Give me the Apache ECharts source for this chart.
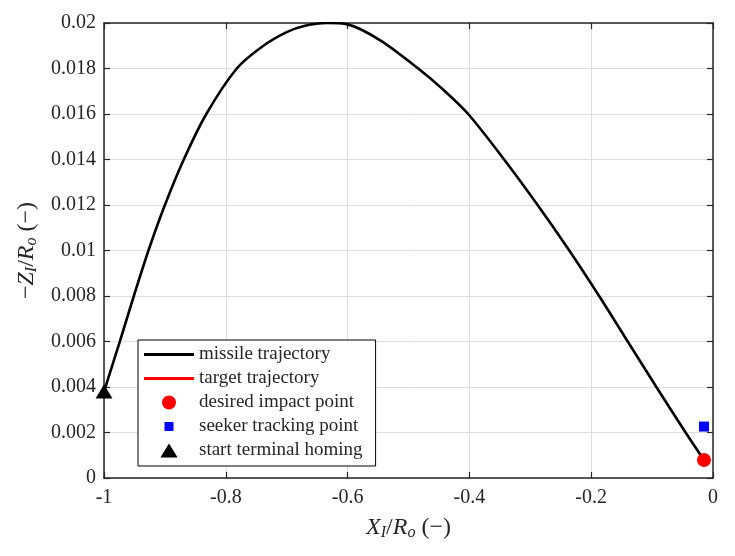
<!DOCTYPE html>
<html>
<head>
<meta charset="utf-8">
<script src="https://cdn.jsdelivr.net/npm/echarts@6/dist/echarts.min.js"></script>
<style>
  html, body { margin: 0; padding: 0; background: #fff; }
  #chart { width: 735px; height: 556px; }
</style>
</head>
<body>
<div id="chart"></div>
<script>
// missile trajectory
const trajX = [-1, -0.974, -0.951, -0.927, -0.9, -0.869, -0.832, -0.782, -0.74, -0.7,
               -0.67, -0.634, -0.6, -0.547, -0.484, -0.443, -0.402, -0.343, -0.288,
               -0.236, -0.187, -0.14, -0.093, -0.045, -0.0148];
const trajY = [0.0038, 0.006, 0.008, 0.010, 0.012, 0.014, 0.016, 0.018, 0.01897, 0.0196,
               0.01988, 0.02, 0.01994, 0.01925, 0.018, 0.01707, 0.016, 0.014, 0.012,
               0.010, 0.008, 0.006, 0.004, 0.002, 0.00079];

const impactPoint = [-0.0148, 0.00079];
const seekerPoint = [-0.0148, 0.00226];
const homingStart = [-1, 0.0038];

const seriesNames = ['missile trajectory', 'target trajectory', 'desired impact point',
                     'seeker tracking point', 'start terminal homing'];

const font = 'Liberation Serif';
const ink = '#262626';

const chart = echarts.init(document.getElementById('chart'));

const trajectory = trajX.map((x, i) => [x, trajY[i]]);

const boxAxis = {
    axisLine: { show: true, onZero: false, lineStyle: { color: ink, width: 1.5 } },
    axisTick: { show: true, inside: true, length: 6, lineStyle: { color: ink, width: 1.2 } },
    axisLabel: { show: false },
    splitLine: { show: false }
};

const nameRich = {
    i: { fontFamily: font, fontStyle: 'italic', fontSize: 24, color: ink, lineHeight: 26 },
    s: { fontFamily: font, fontStyle: 'italic', fontSize: 16, color: ink, lineHeight: 12, verticalAlign: 'bottom' },
    n: { fontFamily: font, fontSize: 24, color: ink, lineHeight: 26 }
};

const option = {
    backgroundColor: '#fff',
    animation: false,
    grid: { left: 104, right: 22, top: 23, bottom: 78 },
    xAxis: [
        {
            type: 'value', min: -1, max: 0, interval: 0.2,
            position: 'bottom',
            axisLine: { onZero: false, lineStyle: { color: ink, width: 1.5 } },
            axisTick: { inside: true, length: 6, lineStyle: { color: ink, width: 1.2 } },
            axisLabel: { color: ink, fontFamily: font, fontSize: 20, margin: 10 },
            splitLine: { show: true, lineStyle: { color: '#dedede', width: 1 } },
            name: '{i|X}{s|I}{n|/}{i|R}{s|o}{n| (\u2212)}',
            nameLocation: 'middle',
            nameGap: 37,
            nameTextStyle: { rich: nameRich }
        },
        Object.assign({ type: 'value', min: -1, max: 0, interval: 0.2, position: 'top' }, boxAxis)
    ],
    yAxis: [
        {
            type: 'value', min: 0, max: 0.02, interval: 0.002,
            position: 'left',
            axisLine: { show: true, onZero: false, lineStyle: { color: ink, width: 1.5 } },
            axisTick: { show: true, inside: true, length: 6, lineStyle: { color: ink, width: 1.2 } },
            axisLabel: { color: ink, fontFamily: font, fontSize: 20, margin: 8 },
            splitLine: { show: true, lineStyle: { color: '#dedede', width: 1 } },
            name: '{n|\u2212}{i|Z}{s|I}{n|/}{i|R}{s|o}{n| (\u2212)}',
            nameLocation: 'middle',
            nameGap: 64,
            nameRotate: 90,
            nameTextStyle: { rich: nameRich }
        },
        Object.assign({ type: 'value', min: 0, max: 0.02, interval: 0.002, position: 'right' }, boxAxis)
    ],
    legend: {
        orient: 'vertical',
        left: 138,
        top: 340,
        padding: [5, 13, 6, 6],
        itemGap: 5,
        itemWidth: 50,
        itemHeight: 14,
        backgroundColor: '#fff',
        borderColor: '#000',
        borderWidth: 1,
        borderRadius: 0,
        textStyle: { fontFamily: font, fontSize: 19, color: ink },
        selectedMode: false,
        data: [
            { name: seriesNames[0], icon: 'path://M0,0H50V3H0Z', itemStyle: { color: '#000', borderWidth: 0 } },
            { name: seriesNames[1], icon: 'path://M0,0H50V3H0Z', itemStyle: { color: '#ff0000', borderWidth: 0 } },
            { name: seriesNames[2], icon: 'circle', itemStyle: { color: '#ff0000', borderWidth: 0 } },
            { name: seriesNames[3], icon: 'path://M0,0M14,14M2.5,2.5H11.5V11.5H2.5Z', itemStyle: { color: '#0000ff', borderWidth: 0 } },
            { name: seriesNames[4], icon: 'path://M8,0L16,13H0Z', itemStyle: { color: '#000', borderWidth: 0 } }
        ]
    },
    series: [
        {
            name: seriesNames[0],
            type: 'line',
            data: trajectory,
            symbol: 'none',
            smooth: 0.3,
            color: '#000',
            lineStyle: { color: '#000', width: 2.6 },
            z: 3
        },
        {
            name: seriesNames[1],
            type: 'line',
            data: [impactPoint],
            symbol: 'none',
            color: '#ff0000',
            lineStyle: { color: '#ff0000', width: 2.6 },
            z: 3
        },
        {
            name: seriesNames[2],
            type: 'scatter',
            data: [impactPoint],
            symbol: 'circle',
            symbolSize: 14,
            itemStyle: { color: '#ff0000', opacity: 1 },
            z: 5
        },
        {
            name: seriesNames[3],
            type: 'scatter',
            data: [seekerPoint],
            symbol: 'rect',
            symbolSize: 10,
            itemStyle: { color: '#0000ff', opacity: 1 },
            z: 5
        },
        {
            name: seriesNames[4],
            type: 'scatter',
            data: [homingStart],
            symbol: 'triangle',
            symbolSize: [17, 14],
            itemStyle: { color: '#000', opacity: 1 },
            z: 5
        }
    ]
};

chart.setOption(option);

window.addEventListener('resize', () => {
    chart.resize();
});
</script>
</body>
</html>
